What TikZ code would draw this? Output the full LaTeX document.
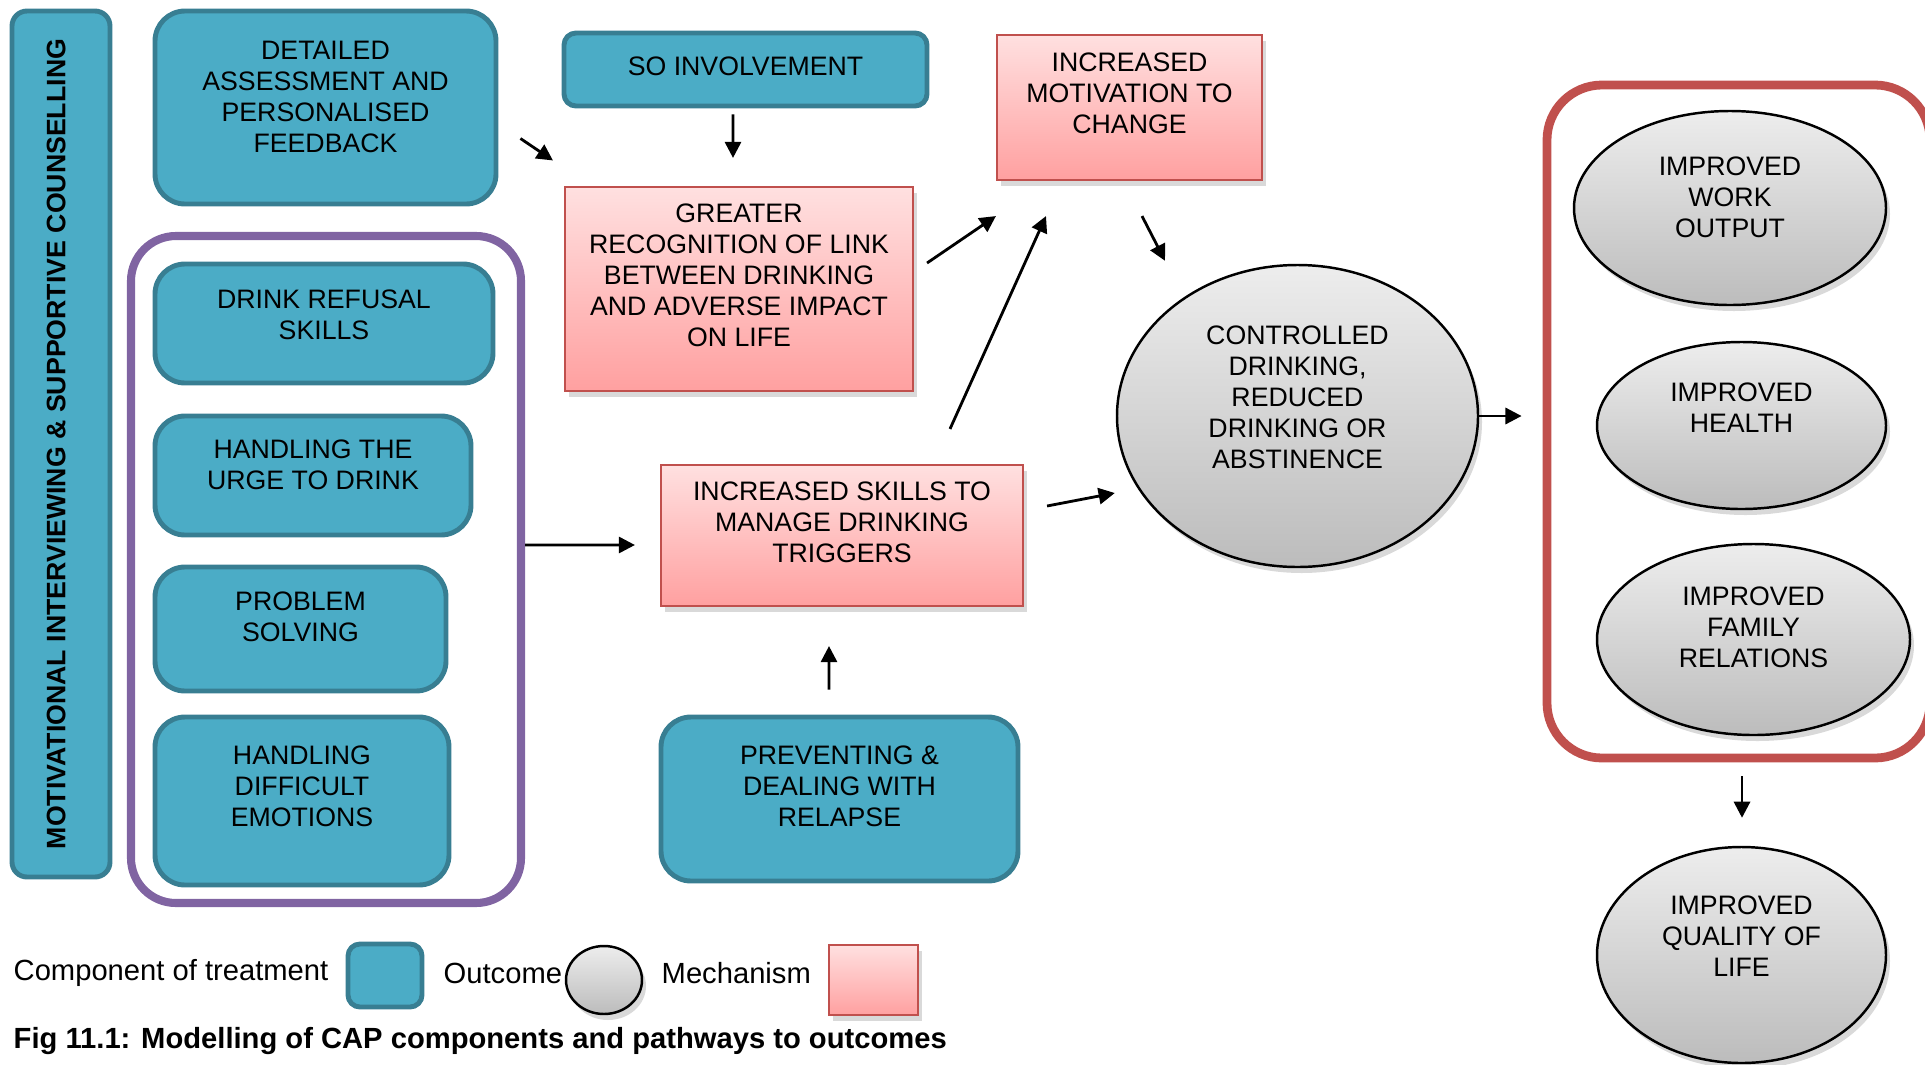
\documentclass[tikz,border=0pt]{standalone}
\usepackage{fontspec}
\setmainfont{Liberation Sans}
\usetikzlibrary{shapes.geometric,arrows.meta,shadows}
\definecolor{teal1}{RGB}{75,172,198}
\definecolor{teal2}{RGB}{56,126,146}
\definecolor{pinktop}{RGB}{255,224,224}
\definecolor{pinkbot}{RGB}{255,160,160}
\definecolor{red1}{RGB}{192,80,77}
\definecolor{greytop}{RGB}{237,237,237}
\definecolor{greybot}{RGB}{188,188,188}
\definecolor{violet1}{RGB}{128,100,162}
\newcommand{\txt}[2][0pt]{\begin{tabular}{@{}c@{}}#2\\[#1]\end{tabular}}
\tikzstyle{every node}=[font=\fontsize{7.6}{8.8}\selectfont]
\tikzstyle{comp}=[draw=teal2,fill=teal1,line width=1.4pt,rounded corners=0.3cm,inner sep=0pt]
\tikzstyle{mech}=[draw=red1,line width=0.6pt,top color=pinktop,bottom color=pinkbot,inner sep=0pt,drop shadow={opacity=0.3,shadow xshift=0.4mm,shadow yshift=-0.6mm}]
\tikzstyle{outc}=[ellipse,draw=black,line width=0.7pt,top color=greytop,bottom color=greybot,inner sep=0pt,drop shadow={opacity=0.3,shadow xshift=0.4mm,shadow yshift=-0.6mm}]
\tikzstyle{lgd}=[anchor=west,inner sep=0pt,font=\fontsize{8.3}{10}\selectfont]
\tikzstyle{arr}=[-{Triangle[length=4.6pt,width=4.6pt]},line width=0.8pt]
\begin{document}
\begin{tikzpicture}
\useasboundingbox (0,0) rectangle (19.25,-10.65);
% components of treatment
\node (mi) at (0.61,-4.44) [comp,rounded corners=0.15cm,rotate=90,minimum width=8.66cm,minimum height=0.98cm] {\raisebox{1mm}{\bfseries MOTIVATIONAL INTERVIEWING \& SUPPORTIVE COUNSELLING}};
\node (det) at (3.255,-1.075) [comp,minimum width=3.41cm,minimum height=1.93cm] {\txt[0.16cm]{DETAILED\\ASSESSMENT AND\\PERSONALISED\\FEEDBACK}};
\node (train) at (3.26,-5.695) [draw=violet1,line width=2.3pt,rounded corners=0.45cm,minimum width=3.9cm,minimum height=6.67cm] {};
\node (refusal) at (3.24,-3.235) [comp,minimum width=3.38cm,minimum height=1.19cm] {\txt[0.11cm]{DRINK REFUSAL\\SKILLS}};
\node (urge) at (3.13,-4.755) [comp,minimum width=3.16cm,minimum height=1.19cm] {\txt[0.15cm]{HANDLING THE\\URGE TO DRINK}};
\node (problem) at (3.005,-6.29) [comp,minimum width=2.91cm,minimum height=1.24cm] {\txt[0.19cm]{PROBLEM\\SOLVING}};
\node (emotions) at (3.02,-8.01) [comp,minimum width=2.94cm,minimum height=1.68cm] {\txt[0.24cm]{HANDLING\\DIFFICULT\\EMOTIONS}};
\node (so) at (7.455,-0.695) [comp,rounded corners=0.12cm,minimum width=3.63cm,minimum height=0.73cm] {\txt{SO INVOLVEMENT}};
\node (prevent) at (8.395,-7.99) [comp,minimum width=3.57cm,minimum height=1.64cm] {\txt[0.2cm]{PREVENTING \&\\DEALING WITH\\RELAPSE}};
% mechanisms
\node (greater) at (7.39,-2.89) [mech,minimum width=3.48cm,minimum height=2.04cm] {\txt[0.22cm]{GREATER\\RECOGNITION OF LINK\\BETWEEN DRINKING\\AND ADVERSE IMPACT\\ON LIFE}};
\node (motiv) at (11.295,-1.075) [mech,minimum width=2.65cm,minimum height=1.45cm] {\txt[0.22cm]{INCREASED\\MOTIVATION TO\\CHANGE}};
\node (skills) at (8.42,-5.355) [mech,minimum width=3.62cm,minimum height=1.41cm] {\txt[0.2cm]{INCREASED SKILLS TO\\MANAGE DRINKING\\TRIGGERS}};
% outcomes
\node (ctrl) at (12.975,-4.16) [outc,minimum width=3.61cm,minimum height=3.02cm] {\txt[0.32cm]{CONTROLLED\\DRINKING,\\REDUCED\\DRINKING OR\\ABSTINENCE}};
\node (outbox) at (17.385,-4.215) [draw=red1,line width=2.5pt,rounded corners=0.55cm,minimum width=3.83cm,minimum height=6.73cm] {};
\node (work) at (17.30,-2.08) [outc,minimum width=3.12cm,minimum height=1.94cm] {\txt[0.16cm]{IMPROVED\\WORK\\OUTPUT}};
\node (health) at (17.415,-4.255) [outc,minimum width=2.89cm,minimum height=1.67cm] {\txt[0.3cm]{IMPROVED\\HEALTH}};
\node (family) at (17.535,-6.395) [outc,minimum width=3.13cm,minimum height=1.91cm] {\txt[0.18cm]{IMPROVED\\FAMILY\\RELATIONS}};
\node (quality) at (17.415,-9.55) [outc,minimum width=2.89cm,minimum height=2.16cm] {\txt[0.32cm]{IMPROVED\\QUALITY OF\\LIFE}};
% pathways
\draw[arr] ([shift={(0.22,-0.31)}]det.east) -- ([shift={(-0.11,0.255)}]greater.north west);
\draw[arr] ([shift={(-0.125,-0.06)}]so.south) -- ([shift={(-0.06,0.28)}]greater.north);
\draw[arr] ([shift={(0.13,0.26)}]greater.east) -- ([shift={(0,-0.35)}]motiv.south west);
\draw[arr] ([shift={(1.08,0.35)}]skills.north) -- ([shift={(-0.835,-0.35)}]motiv.south);
\draw[arr] ([shift={(0.125,-0.35)}]motiv.south) -- ([shift={(-1.325,0.03)}]ctrl.north);
\draw[arr] ([shift={(0,0.245)}]train.east) -- ([shift={(-0.25,-0.095)}]skills.west);
\draw[arr] ([shift={(0.23,0.295)}]skills.east) -- ([shift={(-0.01,-0.77)}]ctrl.west);
\draw[arr] ([shift={(-0.105,0.25)}]prevent.north) -- ([shift={(-0.13,-0.39)}]skills.south);
\draw[arr] (ctrl.east) -- ([xshift=-0.21cm]ctrl.east -| outbox.west);
\draw[arr] ([shift={(0.035,-0.14)}]outbox.south) -- ([shift={(0.005,0.28)}]quality.north);
% key
\node (lgc) at (0.13,-9.73) [lgd] {Component of treatment};
\node (lgcb) at (3.85,-9.755) [comp,rounded corners=0.12cm,minimum width=0.74cm,minimum height=0.63cm] {};
\node (lgo) at (4.43,-9.73) [lgd] {Outcome};
\node (lgob) at (6.04,-9.80) [outc,minimum width=0.76cm,minimum height=0.68cm] {};
\node (lgm) at (6.61,-9.73) [lgd] {Mechanism};
\node (lgmb) at (8.735,-9.80) [mech,minimum width=0.89cm,minimum height=0.70cm] {};
\node (cap) at (0.13,-10.41) [lgd,font=\bfseries\fontsize{8.3}{10}\selectfont] {Fig 11.1: Modelling of CAP components and pathways to outcomes};
\end{tikzpicture}
\end{document}
